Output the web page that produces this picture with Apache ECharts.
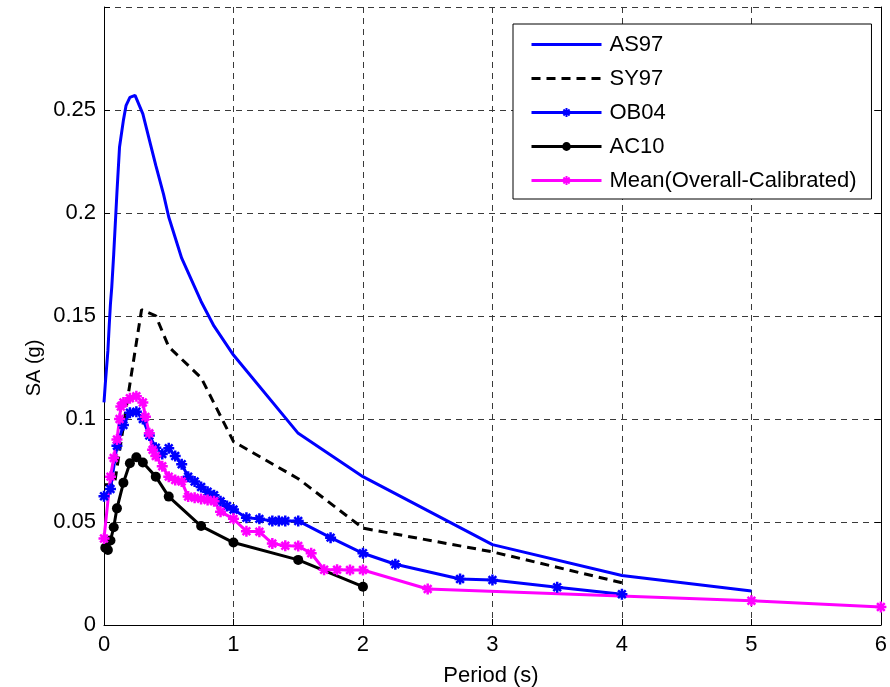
<!DOCTYPE html>
<html><head><meta charset="utf-8">
<script src="https://cdn.jsdelivr.net/npm/echarts@6/dist/echarts.min.js"></script>
<style>html,body{margin:0;padding:0;background:#fff}#c{width:890px;height:687px}</style>
</head><body><div id="c"></div>
<script>
// ---- data (period in s, SA in g) ----
const as97T  = [0,0.01,0.02,0.03,0.04,0.05,0.06,0.075,0.09,0.1,0.12,0.15,0.17,0.2,0.24,0.3,0.36,0.4,0.46,0.5,0.6,0.75,0.85,1.0,1.5,2.0,3.0,4.0,5.0];
const as97SA = [0.108,0.117,0.125,0.133,0.145,0.156,0.164,0.180,0.198,0.210,0.232,0.245,0.252,0.256,0.257,0.248,0.233,0.223,0.209,0.198,0.178,0.157,0.145,0.131,0.093,0.072,0.039,0.024,0.0165];

const sy97T  = [0,0.08,0.2,0.29,0.4,0.5,0.75,1.0,1.5,2.0,3.0,4.0];
const sy97SA = [0.068,0.068,0.117,0.153,0.150,0.135,0.120,0.089,0.071,0.047,0.0355,0.0205];

const ob04T  = [0,0.05,0.1,0.15,0.2,0.25,0.3,0.35,0.4,0.45,0.5,0.55,0.6,0.65,0.7,0.75,0.8,0.85,0.9,0.95,1.0,1.1,1.2,1.3,1.35,1.4,1.5,1.75,2.0,2.25,2.75,3.0,3.5,4.0];
const ob04SA = [0.0625,0.066,0.087,0.097,0.103,0.1035,0.100,0.092,0.086,0.083,0.0858,0.082,0.078,0.072,0.0696,0.067,0.0647,0.063,0.060,0.0578,0.056,0.052,0.0515,0.0505,0.0505,0.0505,0.0505,0.0424,0.0348,0.0295,0.0223,0.0218,0.0183,0.0149];

const ac10T  = [0.01,0.03,0.05,0.075,0.1,0.15,0.2,0.25,0.3,0.4,0.5,0.75,1.0,1.5,2.0];
const ac10SA = [0.0375,0.0364,0.041,0.0474,0.0566,0.069,0.0785,0.0814,0.0789,0.072,0.0623,0.048,0.040,0.0316,0.0186];

const meanT  = [0,0.05,0.075,0.1,0.12,0.13,0.15,0.2,0.25,0.3,0.32,0.35,0.375,0.4,0.45,0.5,0.55,0.6,0.65,0.7,0.75,0.8,0.85,0.9,1.0,1.1,1.2,1.3,1.4,1.5,1.6,1.7,1.8,1.9,2.0,2.5,5.0,6.0];
const meanSA = [0.042,0.072,0.081,0.090,0.100,0.106,0.108,0.110,0.111,0.108,0.101,0.093,0.085,0.082,0.077,0.072,0.0704,0.0696,0.0623,0.0618,0.0612,0.0607,0.060,0.055,0.0515,0.0455,0.0453,0.0395,0.0385,0.0383,0.0348,0.0268,0.0268,0.0267,0.0267,0.0175,0.0118,0.0087];

const seriesNames = ['AS97','SY97','OB04','AC10','Mean(Overall-Calibrated)'];
const noMarkerSeries = ['AS97','SY97'];
const xTicks = [0,1,2,3,4,5,6];
const yTickStep = 0.05;

const pairs = (t, v) => t.map((x, i) => [x, v[i]]);
const FONT = "'Liberation Sans', Arial, Helvetica, sans-serif";
const STAR = 'path://M5,0L5,10M0,5L10,5M1.5,1.5L8.5,8.5M8.5,1.5L1.5,8.5';

const chart = echarts.init(document.getElementById('c'), null, {renderer: 'canvas'});
const gridLine = {show: true, lineStyle: {color: '#3a3a3a', width: 1, type: [6, 5]}};

chart.setOption({
  animation: false,
  backgroundColor: '#fff',
  textStyle: {fontFamily: FONT},
  grid: {left: 104, right: 7, top: 7, bottom: 62, containLabel: false},
  xAxis: {
    type: 'value', min: xTicks[0], max: xTicks[xTicks.length - 1], interval: 1,
    axisLine: {show: true, onZero: false, lineStyle: {color: '#000', width: 1}},
    axisTick: {show: true, inside: true, length: 6, lineStyle: {color: '#000'}},
    axisLabel: {color: '#000', fontSize: 22, margin: 9, fontFamily: FONT},
    splitLine: gridLine
  },
  yAxis: [{
    type: 'value', min: 0, max: 0.2999, interval: yTickStep,
    axisLine: {show: true, onZero: false, lineStyle: {color: '#000', width: 1}},
    axisTick: {show: true, inside: true, length: 6, lineStyle: {color: '#000'}},
    axisLabel: {color: '#000', fontSize: 22, margin: 8, fontFamily: FONT,
      formatter: v => v > 0.26 ? '' : String(+v.toFixed(2))},
    splitLine: gridLine
  }, {
    type: 'value', min: 0, max: 0.2999, interval: yTickStep, position: 'right',
    axisLine: {show: true, onZero: false, lineStyle: {color: '#000', width: 1}},
    axisTick: {show: true, inside: true, length: 6, lineStyle: {color: '#000'}},
    axisLabel: {show: false}, splitLine: {show: false}
  }],
  legend: {
    data: seriesNames.map(n => noMarkerSeries.includes(n) ? {name: n, itemStyle: {opacity: 0}} : {name: n}),
    orient: 'vertical', left: 513, top: 24,
    itemWidth: 70, itemHeight: 11, itemGap: 11,
    padding: [9, 15, 7, 17],
    backgroundColor: '#fff', borderColor: '#000', borderWidth: 1, borderRadius: 0,
    lineStyle: {width: 3},
    textStyle: {fontSize: 22, lineHeight: 23, color: '#000', fontFamily: FONT, padding: [0, 0, 0, 3]}
  },
  graphic: [
    {type: 'text', x: 491, y: 676, style: {text: 'Period (s)', font: '22px ' + FONT, fill: '#000', textAlign: 'center', textVerticalAlign: 'middle'}},
    {type: 'text', x: 34, y: 368, rotation: Math.PI / 2, style: {text: 'SA (g)', font: '20px ' + FONT, fill: '#000', textAlign: 'center', textVerticalAlign: 'middle'}}
  ],
  series: [
    {name: 'AS97', type: 'line', data: pairs(as97T, as97SA), showSymbol: false, symbol: 'none',
      lineStyle: {color: '#0000ff', width: 3}, itemStyle: {color: '#0000ff'}},
    {name: 'SY97', type: 'line', data: pairs(sy97T, sy97SA), showSymbol: false, symbol: 'none',
      lineStyle: {color: '#000', width: 3, type: [9, 6]}, itemStyle: {color: '#000'}},
    {name: 'OB04', type: 'line', data: pairs(ob04T, ob04SA), symbol: STAR, symbolSize: 11, showAllSymbol: true,
      lineStyle: {color: '#0000ff', width: 3}, itemStyle: {color: '#0000ff', borderColor: '#0000ff', borderWidth: 2.5}},
    {name: 'AC10', type: 'line', data: pairs(ac10T, ac10SA), symbol: 'circle', symbolSize: 10, showAllSymbol: true,
      lineStyle: {color: '#000', width: 3}, itemStyle: {color: '#000'}},
    {name: 'Mean(Overall-Calibrated)', type: 'line', data: pairs(meanT, meanSA), symbol: STAR, symbolSize: 11, showAllSymbol: true,
      lineStyle: {color: '#ff00ff', width: 3}, itemStyle: {color: '#ff00ff', borderColor: '#ff00ff', borderWidth: 2.5}}
  ]
});
</script></body></html>
